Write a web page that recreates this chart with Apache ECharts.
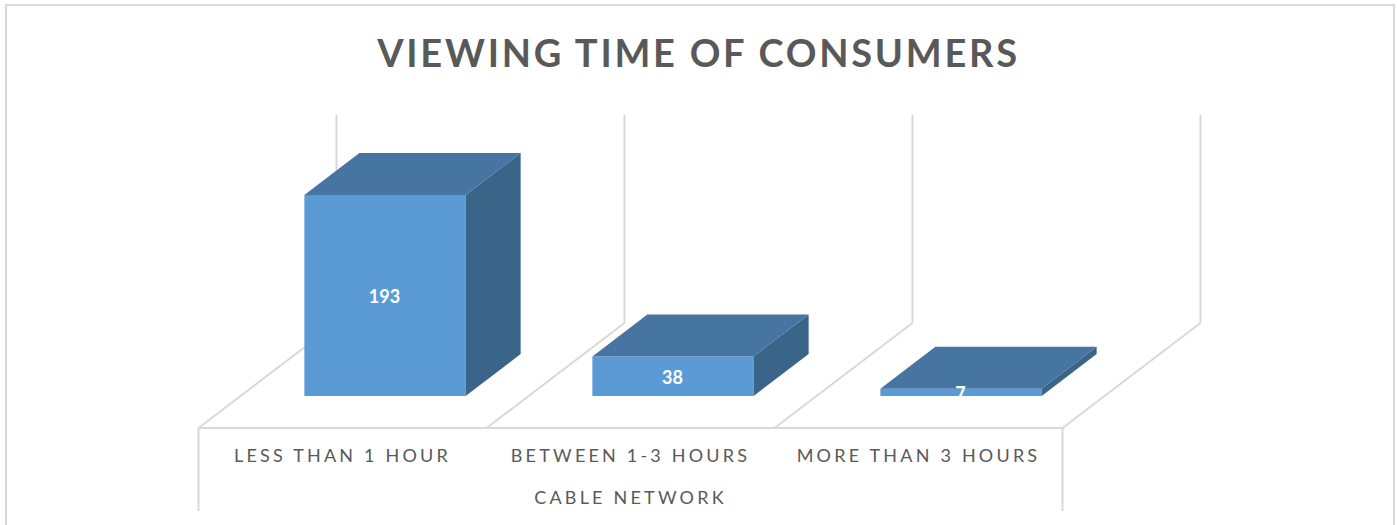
<!DOCTYPE html>
<html>
<head>
<meta charset="utf-8">
<title>Viewing time of consumers</title>
<script src="https://cdn.jsdelivr.net/npm/echarts@6/dist/echarts.min.js"></script>
<style>
  html, body { margin: 0; padding: 0; background: #fff; }
  #chart { width: 1397px; height: 525px; }
  /* Tracked-out capitals for the heading and the axis text */
  #chart text { letter-spacing: 3.2px; }
  #chart text[style*="38px"] { letter-spacing: 2.75px; }
  #chart text[style*="bold 18px"] { letter-spacing: 0; }
</style>
</head>
<body>
<div id="chart"></div>
<script>
const chartTitle = 'VIEWING TIME OF CONSUMERS';
const categories = ['LESS THAN 1 HOUR', 'BETWEEN 1-3 HOURS', 'MORE THAN 3 HOURS'];
const groupName = 'CABLE NETWORK';
const viewers = [193, 38, 7];
const valueMax = 200;

// Oblique projection of the 3D floor: how far a point moves as it recedes.
const floorDepth = [138, -105];     // full depth of the floor
const barInset = [42.5, -32];       // front face of a bar, from the floor's front edge
const barDepth = [55, -42];         // depth of a bar
const barShare = 0.56;              // front-face width as a share of a category band

const gridColor = '#d9d9d9';
const faceColor = '#5b9bd5';
const topColor = '#4675a1';
const sideColor = '#3a6488';

const chart = echarts.init(document.getElementById('chart'), null, { renderer: 'svg' });

function line(x1, y1, x2, y2) {
  return {
    type: 'line',
    shape: { x1, y1, x2, y2 },
    style: { stroke: gridColor, lineWidth: 2, fill: null }
  };
}

// Walls and floor: one divider per band edge, receding from the axis line.
function renderFrame(params, api) {
  const i = api.value(0);
  const band = api.size([1, 0])[0];
  const base = api.coord([i, 0]);
  const top = api.coord([i, valueMax]);
  const edges = [base[0] - band / 2];
  if (i === categories.length - 1) edges.push(base[0] + band / 2);
  const children = [];
  edges.forEach(function (x, k) {
    const bx = x + floorDepth[0];
    const by = base[1] + floorDepth[1];
    const ty = top[1] + floorDepth[1];
    children.push(line(x, base[1], bx, by));
    children.push(line(bx, by, bx, ty));
    // The two outer edges drop down past the labels.
    if (i === 0 && k === 0 || k === 1) children.push(line(x, base[1], x, base[1] + 83));
  });
  return { type: 'group', children };
}

// A bar as three polygons: front face, top and right side, with its value on the front.
function renderBar(params, api) {
  const i = api.value(0);
  const value = api.value(1);
  const band = api.size([1, 0])[0];
  const base = api.coord([i, 0]);
  const head = api.coord([i, value]);
  const w = band * barShare;
  const x0 = base[0] - w / 2 + barInset[0];
  const x1 = x0 + w;
  const y0 = base[1] + barInset[1];
  const y1 = head[1] + barInset[1];
  const dx = barDepth[0];
  const dy = barDepth[1];
  const poly = (points, fill) => ({ type: 'polygon', shape: { points }, style: { fill } });
  return {
    type: 'group',
    children: [
      poly([[x0, y0], [x1, y0], [x1, y1], [x0, y1]], faceColor),
      poly([[x1, y0], [x1 + dx, y0 + dy], [x1 + dx, y1 + dy], [x1, y1]], sideColor),
      poly([[x0, y1], [x1, y1], [x1 + dx, y1 + dy], [x0 + dx, y1 + dy]], topColor),
      {
        type: 'text',
        style: {
          x: (x0 + x1) / 2 - 0.5,
          y: (y0 + y1) / 2 + 1,
          text: String(value),
          fill: '#ffffff',
          font: 'bold 18px Lato',
          align: 'center',
          verticalAlign: 'middle'
        }
      }
    ]
  };
}

chart.setOption({
  animation: false,
  backgroundColor: '#ffffff',
  title: {
    text: chartTitle,
    left: 'center',
    top: 28,
    textStyle: { color: '#595959', fontFamily: 'Lato', fontWeight: 'bold', fontSize: 38 }
  },
  graphic: [{
    type: 'rect',
    shape: { x: 6, y: 5, width: 1388, height: 600 },
    style: { fill: null, stroke: gridColor, lineWidth: 2 },
    silent: true
  }],
  grid: { left: 198.5, right: 334.5, top: 219.7, bottom: 97 },
  xAxis: {
    type: 'category',
    data: categories,
    name: groupName,
    nameLocation: 'middle',
    nameGap: 60,
    nameTextStyle: { color: '#595959', fontFamily: 'Lato', fontSize: 18 },
    axisLine: { show: true, lineStyle: { color: gridColor, width: 2 } },
    axisTick: { show: false },
    splitLine: { show: false },
    axisLabel: { color: '#595959', fontFamily: 'Lato', fontSize: 18, margin: 18 }
  },
  yAxis: {
    type: 'value',
    min: 0,
    max: valueMax,
    show: false,
    splitLine: { show: false }
  },
  series: [
    {
      type: 'custom',
      name: 'Frame',
      z: 1,
      silent: true,
      renderItem: renderFrame,
      encode: { x: 0, y: 1 },
      data: categories.map((c, i) => [i, 0])
    },
    {
      type: 'custom',
      name: 'Cable network',
      z: 2,
      renderItem: renderBar,
      encode: { x: 0, y: 1 },
      data: viewers.map((v, i) => [i, v])
    }
  ]
});
</script>
</body>
</html>
